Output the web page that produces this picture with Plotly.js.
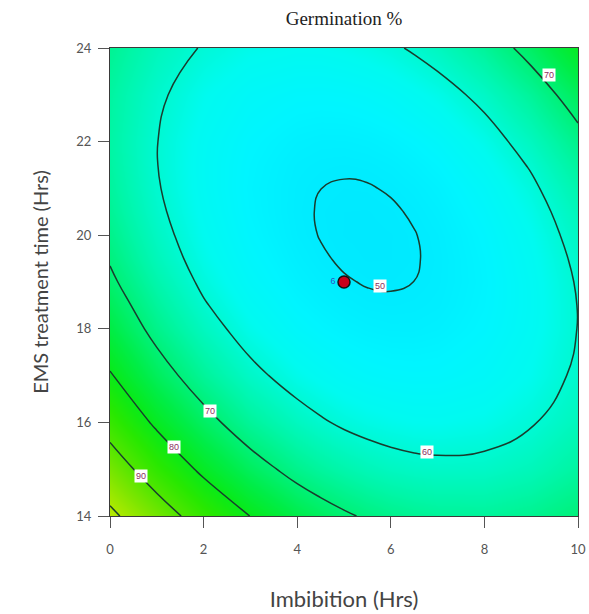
<!DOCTYPE html>
<html>
<head>
<meta charset="utf-8">
<script src="https://cdn.plot.ly/plotly-3.0.1.min.js"></script>
<style>html,body{margin:0;padding:0;background:#fff;}#chart{width:589px;height:614px;}</style>
</head>
<body>
<div id="chart"></div>
<script>
// Imbibition (Hrs) grid
var imbibition = [0, 1, 2, 3, 4, 4.5, 5, 5.5, 6, 6.5, 7, 8, 9, 10];
// EMS treatment time (Hrs) grid
var emsTime = [14, 15, 16, 17, 18, 18.5, 19, 19.5, 20, 20.5, 21, 21.5, 22, 23, 24];
// Germination % (rows follow emsTime, columns follow imbibition)
var germination = [
  [101.6, 94.0, 86.3, 79.9, 74.7, 72.6, 70.8, 69.3, 68.1, 67.3, 66.7, 66.5, 67.6, 69.9],
  [94.3, 85.8, 78.6, 72.7, 67.9, 66.0, 64.5, 63.2, 62.2, 61.6, 61.3, 61.5, 63.0, 65.8],
  [86.8, 78.8, 72.1, 66.5, 62.3, 60.6, 59.2, 58.2, 57.5, 57.0, 56.9, 57.6, 59.6, 62.8],
  [80.5, 72.9, 66.6, 61.5, 57.7, 56.3, 55.1, 54.3, 53.8, 53.6, 53.7, 54.8, 57.2, 60.9],
  [75.3, 68.1, 62.3, 57.6, 54.2, 53.0, 52.1, 51.5, 51.2, 51.2, 51.6, 53.2, 56.0, 60.1],
  [73.1, 66.2, 60.5, 56.1, 52.9, 51.8, 51.0, 50.5, 50.35, 50.5, 50.9, 52.8, 55.8, 60.1],
  [71.1, 64.5, 59.0, 54.8, 51.9, 50.9, 50.2, 49.84, 49.77, 50.01, 50.6, 52.6, 55.9, 60.4],
  [69.5, 63.0, 57.8, 53.9, 51.2, 50.27, 49.69, 49.42, 49.46, 49.82, 50.49, 52.8, 56.3, 61.0],
  [68.1, 61.9, 56.9, 53.2, 50.68, 49.9, 49.44, 49.28, 49.44, 49.9, 50.68, 53.2, 56.9, 61.9],
  [67.0, 61.0, 56.3, 52.8, 50.49, 49.82, 49.46, 49.42, 49.69, 50.27, 51.2, 53.9, 57.8, 63.0],
  [66.2, 60.4, 55.9, 52.6, 50.6, 50.01, 49.77, 49.84, 50.2, 50.9, 51.9, 54.8, 59.0, 64.5],
  [65.7, 60.1, 55.8, 52.8, 50.9, 50.5, 50.35, 50.5, 51.0, 51.8, 52.9, 56.1, 60.5, 66.2],
  [65.4, 60.1, 56.0, 53.2, 51.6, 51.2, 51.2, 51.5, 52.1, 53.0, 54.2, 57.6, 62.3, 68.1],
  [65.8, 60.9, 57.2, 54.8, 53.7, 53.6, 53.8, 54.3, 55.1, 56.3, 57.7, 61.5, 66.6, 72.9],
  [67.2, 62.8, 59.6, 57.6, 56.9, 57.0, 57.5, 58.2, 59.2, 60.6, 62.3, 66.5, 72.1, 78.8]
];
// Design point
var designX = [5];
var designY = [19];
var designCount = ['6'];
// Contour labels
var labelText = ['50', '60', '70', '80', '90', '70'];
var labelX = [5.77, 6.77, 2.14, 1.37, 0.66, 9.38];
var labelY = [18.91, 15.37, 16.24, 15.47, 14.85, 23.42];

var colorscale = [
  [0.0, 'rgb(0,220,255)'],
  [0.0667, 'rgb(0,232,255)'],
  [0.1333, 'rgb(0,245,255)'],
  [0.2, 'rgb(0,250,240)'],
  [0.25, 'rgb(0,249,212)'],
  [0.3333, 'rgb(0,246,168)'],
  [0.4167, 'rgb(0,241,120)'],
  [0.5, 'rgb(0,237,70)'],
  [0.5833, 'rgb(8,234,25)'],
  [0.6667, 'rgb(40,232,0)'],
  [0.75, 'rgb(80,230,0)'],
  [0.8333, 'rgb(125,230,0)'],
  [0.9167, 'rgb(172,233,0)'],
  [1.0, 'rgb(205,236,0)']
];

var contour = {
  type: 'contour',
  x: imbibition,
  y: emsTime,
  z: germination,
  zmin: 45, zmax: 105, zauto: false,
  colorscale: colorscale,
  showscale: false,
  contours: {start: 50, end: 100, size: 10, coloring: 'heatmap', showlabels: false},
  line: {color: 'rgb(25,60,45)', width: 1.5, smoothing: 1.3},
  hoverinfo: 'skip'
};

var point = {
  type: 'scatter',
  mode: 'markers+text',
  x: designX, y: designY, text: designCount,
  textposition: 'middle left',
  textfont: {family: 'Liberation Sans, Arial, sans-serif', size: 9, color: '#2f57c8'},
  marker: {size: 12, color: '#c8001a', line: {color: '#111', width: 1.5}},
  cliponaxis: false,
  hoverinfo: 'skip'
};

var annotations = labelText.map(function (t, i) {
  return {
    x: labelX[i], y: labelY[i], xref: 'x', yref: 'y', text: t, showarrow: false,
    font: {family: 'Liberation Sans, Arial, sans-serif', size: 9, color: '#8a2f5e'},
    bgcolor: '#ffffff', borderpad: 1
  };
});

var axisCommon = {
  showgrid: false, zeroline: false,
  showline: true, mirror: true, linecolor: '#3a3a3a', linewidth: 1,
  ticks: 'outside', ticklen: 11, tickcolor: '#555', tickwidth: 1,
  tickfont: {family: 'Lato, Open Sans, sans-serif', size: 13, color: '#555'}
};

var layout = {
  width: 589, height: 614,
  margin: {l: 110, r: 11, t: 48, b: 98},
  paper_bgcolor: '#ffffff', plot_bgcolor: '#ffffff',
  showlegend: false,
  title: {
    text: 'Germination %',
    font: {family: 'Liberation Serif, Times New Roman, serif', size: 19, color: '#222'},
    x: 0.5, xref: 'paper', y: 0.97, yref: 'container', yanchor: 'middle'
  },
  xaxis: Object.assign({}, axisCommon, {
    range: [0, 10], tickvals: [0, 2, 4, 6, 8, 10], ticklabelstandoff: 10,
    title: {text: 'Imbibition (Hrs)', standoff: 36, font: {family: 'Lato, Open Sans, sans-serif', size: 22, color: '#444'}}
  }),
  yaxis: Object.assign({}, axisCommon, {
    range: [14, 24], tickvals: [14, 16, 18, 20, 22, 24], ticklabelstandoff: 4,
    title: {text: 'EMS treatment time (Hrs)', standoff: 22, font: {family: 'Lato, Open Sans, sans-serif', size: 20, color: '#444'}}
  }),
  annotations: annotations
};

Plotly.newPlot('chart', [contour, point], layout, {staticPlot: true});
</script>
</body>
</html>
